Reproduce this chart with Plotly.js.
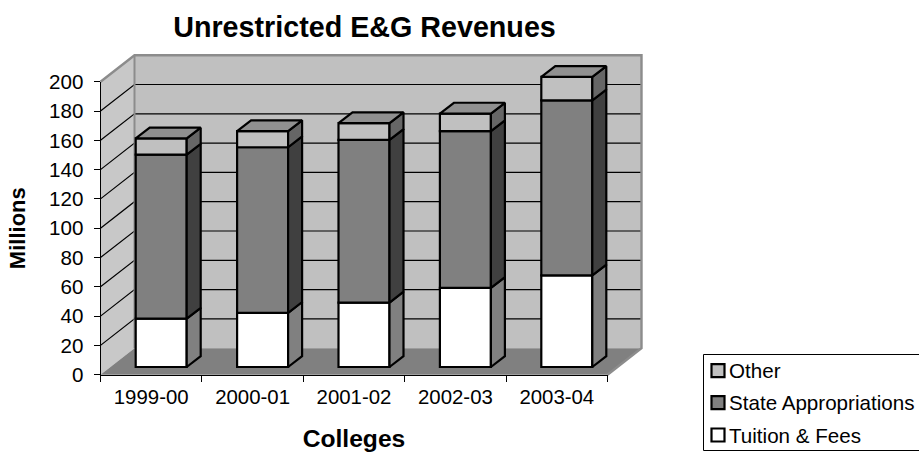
<!DOCTYPE html>
<html>
<head>
<meta charset="utf-8">
<script src="https://cdn.plot.ly/plotly-3.0.1.min.js"></script>
<style>html,body{margin:0;padding:0;background:#fff}</style>
</head>
<body>
<div id="chart" style="width:919px;height:455px"></div>
<script>
// ---- data ----
const categories = ['1999-00', '2000-01', '2001-02', '2002-03', '2003-04'];
const tuitionFees = [33, 37, 44, 54, 62.5];
const stateAppropriations = [112, 113, 111, 107, 119.5];
const otherRevenue = [11, 11, 11.5, 12, 16];
const yTicks = [0, 20, 40, 60, 80, 100, 120, 140, 160, 180, 200];

const seriesNames = ['Tuition & Fees', 'State Appropriations', 'Other'];
const seriesValues = [tuitionFees, stateAppropriations, otherRevenue];
const frontColors = ['#ffffff', '#808080', '#c0c0c0'];
const sideColors = ['#808080', '#404040', '#666666'];
const topColor = '#909090';

// ---- 3D projection constants ----
const W = 919, H = 455;
const m = {l: 90, r: 268, t: 45, b: 70};
const plotW = W - m.l - m.r, plotH = H - m.t - m.b;
const x0px = 100.5, x1px = 607.5, y0px = 374.7, y200px = 81.7;
const ux = (x1px - x0px) / 5, uy = (y0px - y200px) / 200;
const wallDX = 34 / ux, wallDY = 26.5 / uy;
const barDX = 14 / ux, barDY = 10.8 / uy;
const barW = 51 / ux, barLeft = 35.2 / ux, barOffY = 7.7 / uy;
const xMin = 0.5, xMax = 5.5, yMax = 200;

const xRange = [xMin - (x0px - m.l) / ux, xMin + (W - m.r - x0px) / ux];
const yRange = [-(H - m.b - y0px) / uy, (y0px - m.t) / uy];
const pX = px => (px - m.l) / plotW;
const pY = py => (H - m.b - py) / plotH;

// ---- bars ----
const traces = [];
const cum = categories.map(() => 0);
seriesValues.forEach((vals, s) => {
  const bases = cum.slice();
  const centers = categories.map((_, i) => xMin + i + barLeft + barW / 2);
  traces.push({
    type: 'bar', name: seriesNames[s], x: centers, y: vals,
    base: bases.map(b => b + barOffY), width: barW,
    marker: {color: frontColors[s], line: {color: '#000', width: 2.2}},
    xaxis: 'x', yaxis: 'y', showlegend: false, hoverinfo: 'skip'
  });
  const sx = [], sy = [];
  vals.forEach((v, i) => {
    const r = xMin + i + barLeft + barW;
    const b = bases[i] + barOffY, t = b + v;
    sx.push(r, r + barDX, r + barDX, r, r, null);
    sy.push(b, b + barDY, t + barDY, t, b, null);
    cum[i] += v;
  });
  traces.push({
    type: 'scatter', mode: 'lines', x: sx, y: sy, fill: 'toself',
    fillcolor: sideColors[s], line: {color: '#000', width: 2.2},
    xaxis: 'x', yaxis: 'y', showlegend: false, hoverinfo: 'skip'
  });
});
// top faces
const tx = [], ty = [];
cum.forEach((c, i) => {
  const l = xMin + i + barLeft, r = l + barW, t = c + barOffY;
  tx.push(l, r, r + barDX, l + barDX, l, null);
  ty.push(t, t, t + barDY, t + barDY, t, null);
});
traces.push({
  type: 'scatter', mode: 'lines', x: tx, y: ty, fill: 'toself',
  fillcolor: topColor, line: {color: '#000', width: 2.2},
  xaxis: 'x', yaxis: 'y', showlegend: false, hoverinfo: 'skip'
});
// carrier of the labelled front-plane axes (draws nothing)
traces.push({
  type: 'scatter', mode: 'markers', x: categories, y: cum, marker: {opacity: 0, size: 1},
  xaxis: 'x2', yaxis: 'y2', showlegend: false, hoverinfo: 'skip'
});

// ---- walls, floor, gridlines ----
const poly = pts => 'M' + pts.map(p => p.join(',')).join('L') + 'Z';
const bx = xMin + wallDX, bxr = xMax + wallDX;
const shapes = [
  {type: 'path', layer: 'below', xref: 'x', yref: 'y', path: poly([[bx, wallDY], [bxr, wallDY], [bxr, yMax + wallDY], [bx, yMax + wallDY]]),
   fillcolor: '#c0c0c0', line: {width: 0}},
  {type: 'path', layer: 'below', xref: 'x', yref: 'y', path: poly([[xMin, 0], [bx, wallDY], [bx, yMax + wallDY], [xMin, yMax]]),
   fillcolor: '#c8c8c8', line: {width: 0}},
  {type: 'path', layer: 'below', xref: 'x', yref: 'y', path: poly([[xMin, 0], [xMax, 0], [bxr, wallDY], [bx, wallDY]]),
   fillcolor: '#808080', line: {width: 0}}
];
yTicks.filter(v => v > 0 && v < yMax).forEach(v => {
  shapes.push({type: 'path', layer: 'below', xref: 'x', yref: 'y',
    path: `M${xMin},${v}L${bx},${v + wallDY}L${bxr},${v + wallDY}`,
    line: {color: '#000', width: 1.2}});
});
// wall borders
shapes.push({type: 'path', layer: 'below', xref: 'x', yref: 'y',
  path: `M${xMin},${yMax}L${bx},${yMax + wallDY}L${bxr},${yMax + wallDY}L${bxr},${wallDY}L${xMax},0`,
  line: {color: '#8c8c8c', width: 2.4}});
shapes.push({type: 'path', layer: 'below', xref: 'x', yref: 'y',
  path: `M${bx},${yMax + wallDY}L${bx},${wallDY}`,
  line: {color: '#8c8c8c', width: 2}});

// ---- legend ----
const legendRows = [[2, 370.7], [1, 402.7], [0, 435]];
shapes.push({type: 'rect', xref: 'paper', yref: 'paper', x0: pX(703.5), x1: pX(930), y0: pY(354.5), y1: pY(450.5),
  line: {color: '#000', width: 1}, fillcolor: '#fff'});
const annotations = [];
legendRows.forEach(([s, y]) => {
  shapes.push({type: 'rect', xref: 'paper', yref: 'paper',
    x0: pX(711.5), x1: pX(724.5), y0: pY(y - 6.5), y1: pY(y + 6.5),
    fillcolor: frontColors[s], line: {color: '#000', width: 2.2}});
  annotations.push({xref: 'paper', yref: 'paper', x: pX(726.5), y: pY(y), xanchor: 'left', yanchor: 'middle',
    text: seriesNames[s], showarrow: false, font: {family: 'Liberation Sans, Arial, sans-serif', size: 20.6, color: '#000'}});
});

const font = {family: 'Liberation Sans, Arial, sans-serif', color: '#000'};
const layout = {
  width: W, height: H, margin: m, showlegend: false, barmode: 'overlay',
  paper_bgcolor: '#fff', plot_bgcolor: 'rgba(0,0,0,0)', font,
  title: {text: 'Unrestricted E&G Revenues', xref: 'paper', x: pX(364.5), xanchor: 'center',
          yref: 'container', y: 1 - 27 / H, yanchor: 'middle',
          font: {...font, size: 28.7, weight: 'bold'}},
  xaxis: {domain: [0, 1], range: xRange, visible: false, fixedrange: true},
  yaxis: {domain: [0, 1], range: yRange, visible: false, fixedrange: true},
  xaxis2: {
    type: 'category', categoryorder: 'array', categoryarray: categories, tickmode: 'array',
    tickvals: categories, ticktext: categories,
    domain: [pX(x0px), pX(x1px)], range: [-0.5, 4.5], anchor: 'y2', tickson: 'boundaries',
    ticks: 'outside', ticklen: 6, tickcolor: '#000', tickwidth: 1, showline: true, linecolor: '#000', linewidth: 1,
    showgrid: false, zeroline: false, tickfont: {...font, size: 20.4}, fixedrange: true, ticklabelstandoff: 4,
    title: {text: 'Colleges', font: {...font, size: 24.6, weight: 'bold'}, standoff: 22}
  },
  yaxis2: {
    domain: [pY(y0px), pY(y200px)], range: [0, 200], anchor: 'x2', tickmode: 'array', tickvals: yTicks,
    ticks: 'outside', ticklen: 6, tickcolor: '#000', tickwidth: 1, showline: true, linecolor: '#000', linewidth: 1,
    showgrid: false, zeroline: false, tickfont: {...font, size: 20.6}, fixedrange: true, ticklabelstandoff: 6,
    title: {text: 'Millions', font: {...font, size: 22, weight: 'bold'}, standoff: 17}
  },
  shapes, annotations
};
Plotly.newPlot('chart', traces, layout, {displayModeBar: false, staticPlot: true});
</script>
</body>
</html>
